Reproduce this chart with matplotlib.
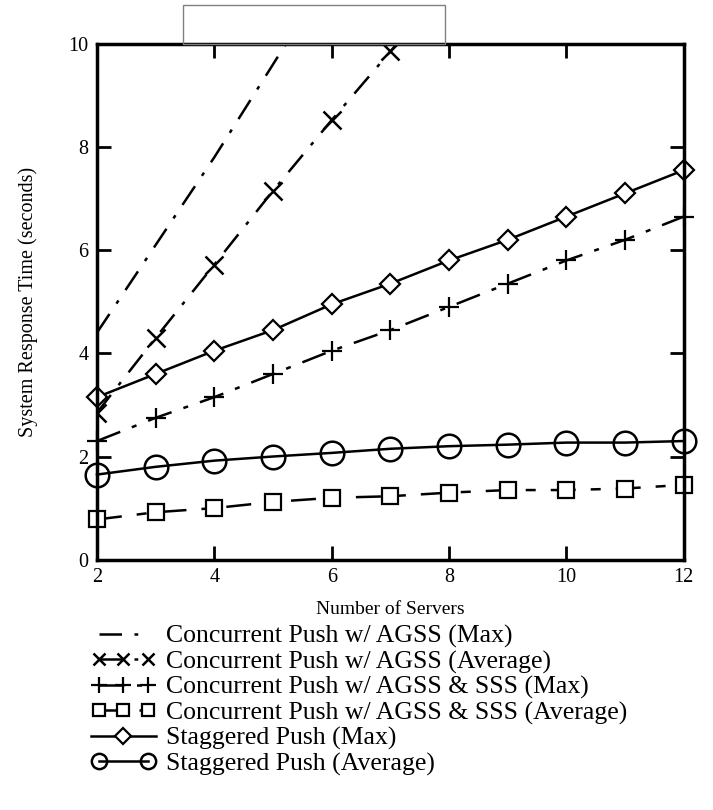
import matplotlib
matplotlib.use("Agg")
import matplotlib.pyplot as plt
from matplotlib.legend_handler import HandlerLine2D
from matplotlib.patches import Rectangle

plt.rcParams['font.family'] = ['Liberation Serif', 'DejaVu Serif']

servers = [2, 3, 4, 5, 6, 7, 8, 9, 10, 11, 12]
conc_max = [4.4, 6.1, 7.8, 9.6, 11.4, 13.2, 15.0, 16.8, 18.6, 20.4, 22.2]
conc_avg = [2.85, 4.3, 5.72, 7.15, 8.52, 9.85, 11.2, 12.6, 14.0, 15.4, 16.8]
sss_max = [2.3, 2.75, 3.15, 3.6, 4.05, 4.45, 4.9, 5.35, 5.8, 6.2, 6.65]
sss_avg = [0.78, 0.92, 1.0, 1.12, 1.2, 1.23, 1.3, 1.35, 1.35, 1.38, 1.45]
stag_max = [3.15, 3.6, 4.05, 4.45, 4.95, 5.35, 5.8, 6.2, 6.65, 7.1, 7.55]
stag_avg = [1.65, 1.8, 1.92, 2.0, 2.07, 2.15, 2.2, 2.23, 2.27, 2.27, 2.3]

labels = ["Concurrent Push w/ AGSS (Max)",
          "Concurrent Push w/ AGSS (Average)",
          "Concurrent Push w/ AGSS & SSS (Max)",
          "Concurrent Push w/ AGSS & SSS (Average)",
          "Staggered Push (Max)",
          "Staggered Push (Average)"]
xticks = [2, 4, 6, 8, 10, 12]
yticks = [0, 2, 4, 6, 8, 10]

fig = plt.figure(figsize=(7.13, 8.10), dpi=100)
ax = fig.add_axes([0.136, 0.309, 0.823, 0.637])

lw = 1.8
dd = (0, (9, 5, 1.5, 5))
h1, = ax.plot(servers, conc_max, color='black', lw=lw, linestyle=dd, label=labels[0])
h2, = ax.plot(servers, conc_avg, color='black', lw=lw, linestyle=dd, marker='x',
              markersize=13, markeredgewidth=1.8, label=labels[1])
h3, = ax.plot(servers, sss_max, color='black', lw=lw, linestyle=(0, (10, 5, 2, 5)), marker='+',
              markersize=15, markeredgewidth=1.6, label=labels[2], clip_on=False)
h4, = ax.plot(servers, sss_avg, color='black', lw=lw, linestyle=(0, (10, 6, 4, 6)), marker='s',
              markersize=11, markerfacecolor='white', markeredgewidth=1.6, label=labels[3],
              clip_on=False)
h5, = ax.plot(servers, stag_max, color='black', lw=lw, linestyle='-', marker='D',
              markersize=10, markerfacecolor='white', markeredgewidth=1.6, label=labels[4],
              clip_on=False)
h6, = ax.plot(servers, stag_avg, color='black', lw=lw, linestyle='-', marker='o',
              markersize=17, markerfacecolor='none', markeredgewidth=1.8, label=labels[5],
              clip_on=False)

ax.set_xlim(2, 12)
ax.set_ylim(0, 10)
ax.set_xticks(xticks)
ax.set_yticks(yticks)
ax.tick_params(direction='in', length=10, width=2, top=True, right=True,
               labelsize=14.5, pad=6)
for s in ax.spines.values():
    s.set_linewidth(2.5)
ax.set_xlabel("Number of Servers", fontsize=14, labelpad=10)
ax.set_ylabel("System Response Time (seconds)", fontsize=14.5, labelpad=22)

leg = fig.legend(handles=[h1, h2, h3, h4, h5, h6], loc='upper left',
                 bbox_to_anchor=(0.128, 1 - 625 / 810), frameon=False,
                 fontsize=18.5, handlelength=2.5, handletextpad=0.4, labelspacing=0.08,
                 borderaxespad=0, borderpad=0,
                 handler_map={h1: HandlerLine2D(numpoints=2), h2: HandlerLine2D(numpoints=3),
                              h3: HandlerLine2D(numpoints=3), h4: HandlerLine2D(numpoints=3),
                              h5: HandlerLine2D(numpoints=1), h6: HandlerLine2D(numpoints=2)})
leg_ms = {1: 9, 2: 11, 3: 8, 4: 8, 5: 11}
for i, lh in enumerate(leg.get_lines()):
    if i in leg_ms:
        lh.set_markersize(leg_ms[i])

fig.patches.append(Rectangle((183 / 713, 1 - 44 / 810), (445 - 183) / 713, 39 / 810,
                             transform=fig.transFigure, fill=False, edgecolor='gray', lw=1))

fig.savefig("out.png", dpi=100)
